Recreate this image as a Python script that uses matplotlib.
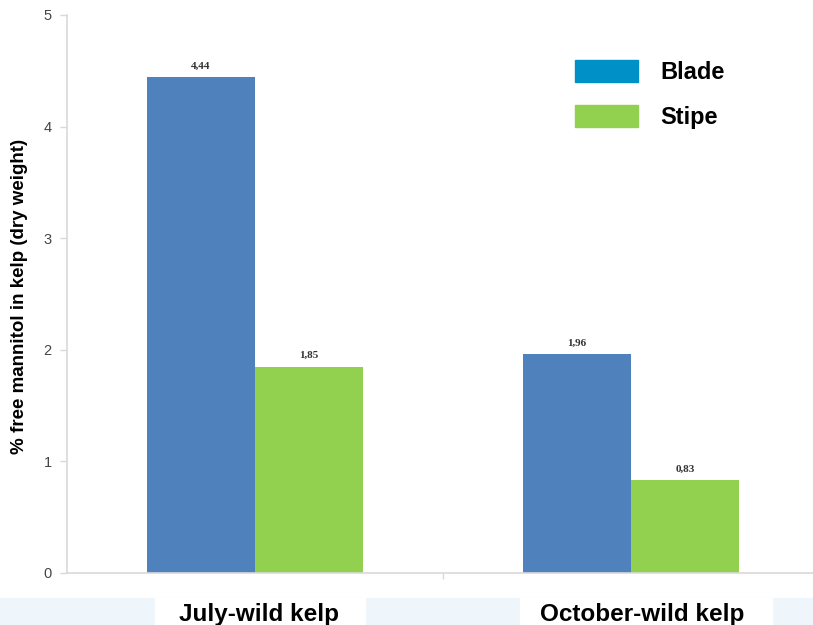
import matplotlib.pyplot as plt
import numpy as np
from matplotlib.patches import Patch, Rectangle
from matplotlib.transforms import offset_copy

# data
categories = ["July-wild kelp", "October-wild kelp"]
blade = [4.44, 1.96]
stipe = [1.85, 0.83]
blade_labels = ["4,44", "1,96"]
stipe_labels = ["1,85", "0,83"]

plt.rcParams['font.family'] = ['Liberation Sans', 'DejaVu Sans']

fig = plt.figure(figsize=(8.13, 6.25), dpi=100)

# light blue strip along the bottom with white boxes behind the labels
fig.patches.append(Rectangle((0, 0), 1, 27 / 625, transform=fig.transFigure,
                             color='#eef5fb', zorder=-2))
for x0, x1 in [(155, 365), (520, 772)]:
    fig.patches.append(Rectangle((x0 / 813, 0), (x1 - x0) / 813, 27 / 625,
                                 transform=fig.transFigure, color='white', zorder=-1))

ax = fig.add_axes([67 / 813, 52 / 625, 752 / 813, 558 / 625])
ax.set_facecolor('none')

x = np.arange(len(categories))
w = 0.287
b1 = ax.bar(x - w / 2, blade, w, color='#4f81bd')
b2 = ax.bar(x + w / 2, stipe, w, color='#92d050')

for rect, lab in zip(list(b1) + list(b2), blade_labels + stipe_labels):
    ax.text(rect.get_x() + rect.get_width() / 2, rect.get_height() + 0.06, lab,
            ha='center', va='bottom', fontsize=8, fontweight='bold',
            family='Liberation Serif', color='#333333')

ax.set_xlim(-0.5, 1.5)
ax.set_ylim(0, 5)
ax.set_yticks([0, 1, 2, 3, 4, 5])
ax.set_xticks([0.5])
ax.set_xticklabels([''])
ax.tick_params(axis='y', length=5, width=1, color='#d9d9d9', labelsize=10.5,
               labelcolor='#444444', pad=6)
ax.tick_params(axis='x', length=4, width=1, color='#d9d9d9')

for s in ['top', 'right']:
    ax.spines[s].set_visible(False)
for s in ['left', 'bottom']:
    ax.spines[s].set_color('#d9d9d9')
    ax.spines[s].set_linewidth(1.2)

# category labels sit a little right of the bar groups in the original
for xi, cat, dx in zip(x, categories, [4, 11]):
    tr = offset_copy(ax.transData, fig=fig, x=dx, y=0, units='dots')
    ax.text(xi, -0.37, cat, ha='center', va='center', fontsize=17.5,
            fontweight='bold', transform=tr, clip_on=False)

fig.text(20 / 813, 1 - 296 / 625, '% free mannitol in kelp (dry weight)',
         rotation=90, ha='center', va='center', fontsize=13.5, fontweight='bold')

handles = [Patch(color='#0090c8', label='Blade'), Patch(color='#92d050', label='Stipe')]
fig.legend(handles=handles, loc='upper left',
           bbox_to_anchor=(575 / 813, 1 - 60 / 625), frameon=False,
           prop={'size': 17, 'weight': 'bold'}, handlelength=2.67,
           handleheight=1.05, handletextpad=0.93, labelspacing=0.9, borderpad=0,
           borderaxespad=0)

fig.savefig('out.png', dpi=100)
